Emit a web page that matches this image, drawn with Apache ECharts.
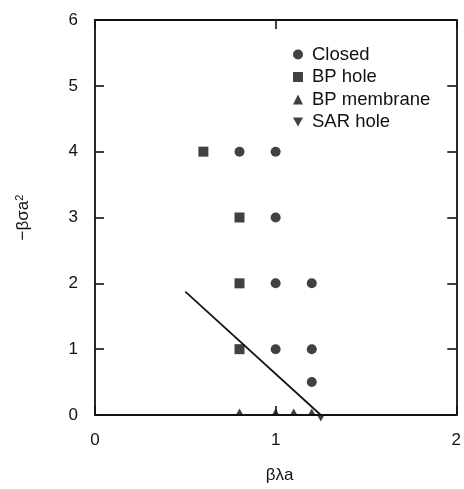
<!DOCTYPE html>
<html>
<head>
<meta charset="utf-8">
<script src="https://cdn.jsdelivr.net/npm/echarts@6/dist/echarts.min.js"></script>
<style>
  html, body { margin: 0; padding: 0; background: #fff; }
  #chart { width: 464px; height: 489px; }
</style>
</head>
<body>
<div id="chart"></div>
<script>
// Phase points: [βλa, −βσa²]
const closed = [[0.8, 4], [1.0, 4], [1.0, 3], [1.0, 2], [1.2, 2], [1.0, 1], [1.2, 1], [1.2, 0.5]];
const bpHole = [[0.6, 4], [0.8, 3], [0.8, 2], [0.8, 1]];
const bpMembrane = [[0.8, 0], [1.0, 0], [1.1, 0], [1.2, 0]];
const sarHole = [[1.25, 0]];
// Boundary line
const boundary = [[0.5, 1.875], [1.25, 0]];

const xTicks = [0, 1, 2];
const yTicks = [0, 1, 2, 3, 4, 5, 6];

const ink = '#111';
const font = 'Liberation Sans, Arial, sans-serif';
const downTri = 'path://M0,0 L10,0 L5,9 Z';

const chart = echarts.init(document.getElementById('chart'), null, { renderer: 'canvas' });

// every side of the box gets an axis line with inward ticks
function frame(extra) {
  return Object.assign({
    axisLine: { show: true, onZero: false, lineStyle: { color: ink, width: 1.8 } },
    axisTick: { show: true, inside: true, length: 9, lineStyle: { color: ink, width: 1.6 } },
    splitLine: { show: false }
  }, extra);
}

chart.setOption({
  animation: false,
  backgroundColor: '#fff',
  textStyle: { fontFamily: font, color: ink },
  grid: { left: 95, right: 3, top: 20, bottom: 73 },
  legend: {
    orient: 'vertical',
    left: 288,
    top: 40,
    itemWidth: 10,
    itemHeight: 10,
    itemGap: 3.5,
    textStyle: { fontSize: 18.5, color: ink, fontFamily: font, padding: [0, 0, 0, 4] },
    data: [
      { name: 'Closed', icon: 'circle' },
      { name: 'BP hole', icon: 'rect' },
      { name: 'BP membrane', icon: 'triangle' },
      { name: 'SAR hole', icon: downTri }
    ]
  },
  xAxis: [
    frame({
      type: 'value', min: xTicks[0], max: xTicks[xTicks.length - 1], interval: 1,
      position: 'bottom',
      name: 'βλa', nameLocation: 'middle', nameGap: 52,
      nameTextStyle: { fontSize: 17, color: ink, fontFamily: font, padding: [0, 0, 0, 8] },
      axisLabel: { fontSize: 17, color: ink, margin: 17, fontFamily: font }
    }),
    frame({
      type: 'value', min: xTicks[0], max: xTicks[xTicks.length - 1], interval: 1,
      position: 'top',
      axisLabel: { show: false }
    })
  ],
  yAxis: [
    frame({
      type: 'value', min: yTicks[0], max: yTicks[yTicks.length - 1], interval: 1,
      position: 'left',
      name: '{m|−βσa}{s|2}', nameLocation: 'middle', nameGap: 62, nameRotate: 90,
      nameTextStyle: {
        color: ink, fontFamily: font,
        rich: {
          m: { fontSize: 17, color: ink, fontFamily: font },
          s: { fontSize: 11, color: ink, fontFamily: font, verticalAlign: 'top', padding: [0, 0, 8, 0] }
        }
      },
      axisLabel: { fontSize: 17, color: ink, margin: 17, fontFamily: font }
    }),
    frame({
      type: 'value', min: yTicks[0], max: yTicks[yTicks.length - 1], interval: 1,
      position: 'right',
      axisLabel: { show: false }
    })
  ],
  series: [
    {
      name: 'Closed', type: 'scatter', data: closed,
      symbol: 'circle', symbolSize: 10, itemStyle: { color: ink }, z: 3
    },
    {
      name: 'BP hole', type: 'scatter', data: bpHole,
      symbol: 'rect', symbolSize: 10, itemStyle: { color: ink }, z: 3
    },
    {
      name: 'BP membrane', type: 'scatter', data: bpMembrane,
      symbol: 'triangle', symbolSize: [8, 7], symbolOffset: [0, -3], itemStyle: { color: ink }, z: 3
    },
    {
      name: 'SAR hole', type: 'scatter', data: sarHole,
      symbol: downTri, symbolSize: [8, 7], symbolOffset: [0, 3], itemStyle: { color: ink }, z: 3
    },
    {
      name: 'boundary', type: 'line', data: boundary,
      showSymbol: false, symbol: 'none',
      lineStyle: { color: ink, width: 1.7 }, z: 2
    }
  ]
});
</script>
</body>
</html>
